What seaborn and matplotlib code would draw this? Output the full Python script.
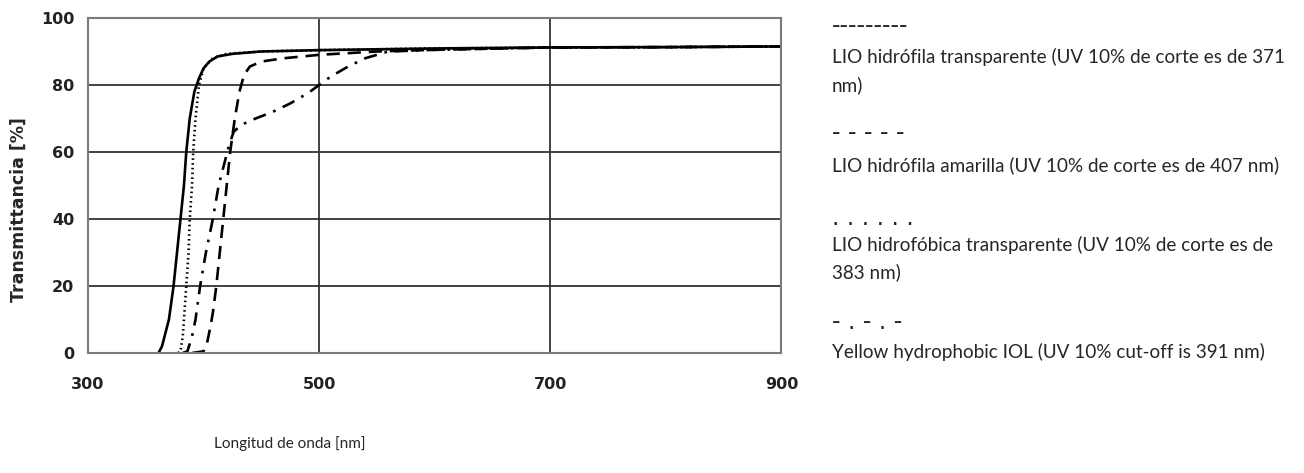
import matplotlib
matplotlib.use('Agg')
import matplotlib.pyplot as plt
import seaborn as sns

# wavelength [nm] / transmittance [%]
wl_hydrophilic_clear = [361, 364, 367, 370, 374, 377, 380, 383, 385, 388, 392, 396, 400, 405, 412, 425, 450, 500, 600, 700, 800, 900]
tr_hydrophilic_clear = [0, 2, 6, 10, 20, 30, 40, 50, 60, 70, 78, 82, 85, 87, 88.5, 89.3, 90, 90.4, 90.9, 91.2, 91.3, 91.5]

wl_hydrophilic_yellow = [390, 400, 403, 406, 408, 411, 414, 417, 420, 423, 427, 431, 435, 440, 450, 470, 500, 550, 600, 700, 800, 900]
tr_hydrophilic_yellow = [0, 0.5, 3, 8, 12, 20, 30, 40, 50, 60, 70, 78, 83, 85.5, 87, 88, 89, 90, 90.5, 91.2, 91.3, 91.5]

wl_hydrophobic_clear = [378, 380, 382, 383, 385, 387, 388, 390, 391, 393, 396, 400, 408, 420, 450, 500, 600, 700, 800, 900]
tr_hydrophobic_clear = [0, 0.5, 5, 10, 20, 30, 40, 50, 60, 70, 80, 85, 88, 89.3, 90, 90.4, 90.9, 91.2, 91.3, 91.5]

wl_hydrophobic_yellow = [382, 386, 390, 393, 397, 402, 408, 413, 419, 422, 426, 432, 445, 460, 475, 490, 500, 510, 525, 540, 560, 600, 700, 800, 900]
tr_hydrophobic_yellow = [0, 0.5, 5, 10, 20, 30, 40, 50, 58, 62, 66, 68, 70, 72, 74.5, 77.5, 80, 82.5, 85.5, 88, 90, 90.5, 91.2, 91.3, 91.5]

x_ticks = [300, 500, 700, 900]
y_ticks = [0, 20, 40, 60, 80, 100]

# legend is plain text to the right of the chart
legend_marks = ['---------', '- - - - -', '. . . . . .', '- . - . -']
legend_labels = [
    ['LIO hidrófila transparente (UV 10% de corte es de 371', 'nm)'],
    ['LIO hidrófila amarilla (UV 10% de corte es de 407 nm)'],
    ['LIO hidrofóbica transparente (UV 10% de corte es de', '383 nm)'],
    ['Yellow hydrophobic IOL (UV 10% cut-off is 391 nm)'],
]

sns.set_style('white')
plt.rcParams['font.family'] = ['DejaVu Sans']

fig = plt.figure(figsize=(13.04, 4.73), dpi=100)
ax = fig.add_axes([0.0675, 0.2537, 0.5318, 0.7083])

sns.lineplot(x=wl_hydrophilic_clear, y=tr_hydrophilic_clear, ax=ax, color='black', lw=1.9, linestyle='-')
sns.lineplot(x=wl_hydrophobic_clear, y=tr_hydrophobic_clear, ax=ax, color='black', lw=1.9, linestyle=(0, (0.6, 1.2)))
sns.lineplot(x=wl_hydrophilic_yellow, y=tr_hydrophilic_yellow, ax=ax, color='black', lw=1.9, linestyle=(0, (5, 3)))
sns.lineplot(x=wl_hydrophobic_yellow, y=tr_hydrophobic_yellow, ax=ax, color='black', lw=1.9, linestyle=(0, (5, 3, 1, 3)))

ax.set_xlim(300, 900)
ax.set_ylim(0, 100)
ax.set_xticks(x_ticks)
ax.set_yticks(y_ticks)
ax.set_xticklabels([str(t) for t in x_ticks], fontweight='bold', fontsize=11.5, color='#222222')
ax.set_yticklabels([str(t) for t in y_ticks], fontweight='bold', fontsize=11.5, color='#222222')
ax.tick_params(axis='x', length=0, pad=17)
ax.tick_params(axis='y', length=0, pad=10)
ax.grid(True, color='#333333', lw=1.3)
ax.set_axisbelow(True)
for s in ax.spines.values():
    s.set_color('#7a7a7a')
    s.set_linewidth(1.5)

ax.set_ylabel('Transmittancia [%]', fontweight='bold', fontsize=12.5)
ax.yaxis.set_label_coords(-0.087, 0.427)
ax.set_xlabel('')
fig.text(0.2225, 0.063, 'Longitud de onda [nm]', fontsize=11, family='Lato', ha='center', va='center')

# vertical centres (pixels from top) of mark line and label lines
mark_y = [26, 133, 218, 322]
label_y = [[57, 85], [165], [245, 272], [352]]
for mark, labels, my, ly in zip(legend_marks, legend_labels, mark_y, label_y):
    fig.text(0.638, 1 - my / 473, mark, fontsize=17, family='DejaVu Sans', va='center')
    for line, yy in zip(labels, ly):
        fig.text(0.638, 1 - yy / 473, line, fontsize=13.6, family='Lato', va='center')

fig.savefig('out.png', dpi=100)
